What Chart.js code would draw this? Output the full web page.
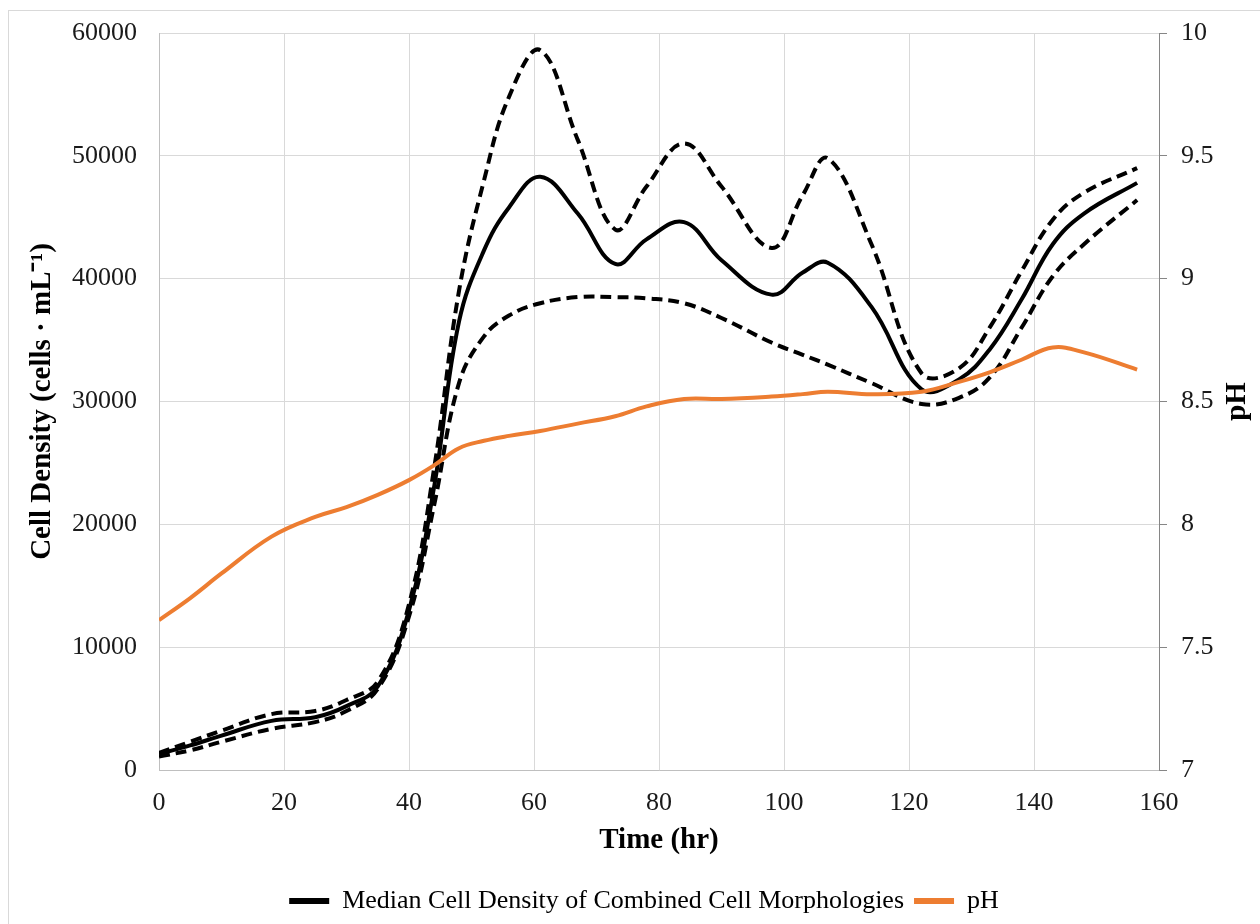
<!DOCTYPE html>
<html>
<head>
<meta charset="utf-8">
<title>Cell density and pH</title>
<script src="https://cdn.jsdelivr.net/npm/chart.js@4.4.0/dist/chart.umd.min.js"></script>
<style>
    html, body { margin: 0; padding: 0; background: #fff; }
    #wrap { width: 1260px; height: 924px; }
</style>
</head>
<body>
<div id="wrap"><canvas id="chart" width="1260" height="924"></canvas></div>
<script>
/* data */
const timeHr = [0, 5, 10, 18, 25, 30, 35, 40, 44, 48, 52, 56, 61, 67, 73, 78, 84, 90, 98, 103, 107, 114, 122, 128, 133, 138, 143, 148, 156.5];

const medianDensity = [1300, 2000, 2800, 4000, 4300, 5200, 6800, 13000, 23000, 36500, 42300, 45800, 48300, 45300, 41200, 43200, 44600, 41500, 38700, 40500, 41300, 37700, 31000, 31800, 34300, 38300, 42800, 45300, 47800];
const upperDensity  = [1400, 2300, 3200, 4550, 4800, 5700, 7200, 13500, 24500, 39000, 48000, 54800, 58600, 51300, 44000, 47500, 51000, 47500, 42500, 46800, 49800, 42800, 32300, 32700, 36100, 40600, 44800, 47000, 49000];
const lowerDensity  = [1100, 1600, 2300, 3350, 3900, 4800, 6600, 12500, 21500, 31500, 35300, 37000, 38000, 38500, 38500, 38400, 38000, 36800, 34800, 33800, 33000, 31500, 29800, 30300, 32000, 36000, 40200, 42800, 46400];
const phValues      = [7.61, 7.70, 7.80, 7.95, 8.03, 8.07, 8.12, 8.18, 8.24, 8.31, 8.34, 8.36, 8.38, 8.41, 8.44, 8.48, 8.51, 8.51, 8.52, 8.53, 8.54, 8.53, 8.54, 8.58, 8.62, 8.67, 8.72, 8.70, 8.63];

const medianLabel = "Median Cell Density of Combined Cell Morphologies";
const phLabel = "pH";
const xTitle = "Time (hr)";
const yTitle = "Cell Density (cells \u00b7 mL\u207b\u00b9)";
const y1Title = "pH";

const FONT = "'Liberation Serif', 'Times New Roman', serif";
const GRID = "#d9d9d9";

function toPts(vals) {
    return vals.map(function (v, i) { return { x: timeHr[i], y: v }; });
}

const legendSeries = [0, 3];

/* page frame + rotated right axis title */
const framePlugin = {
    id: "frame",
    beforeDraw: function (chart) {
        const ctx = chart.ctx;
        ctx.save();
        ctx.fillStyle = "#fff";
        ctx.fillRect(0, 0, chart.width, chart.height);
        ctx.strokeStyle = GRID;
        ctx.lineWidth = 1;
        ctx.strokeRect(8.5, 10.5, chart.width + 10, chart.height + 10);
        ctx.restore();
    },
    afterDraw: function (chart) {
        const ctx = chart.ctx;
        const area = chart.chartArea;
        ctx.save();
        ctx.translate(area.right + 79, (area.top + area.bottom) / 2);
        ctx.rotate(-Math.PI / 2);
        ctx.font = "bold 29px " + FONT;
        ctx.fillStyle = "#000";
        ctx.textAlign = "center";
        ctx.textBaseline = "middle";
        ctx.fillText(y1Title, 0, 0);
        ctx.restore();
    }
};

const lineBase = {
    pointRadius: 0,
    pointHoverRadius: 0,
    fill: false,
    tension: 0.4
};

/* fixed axis widths, and no extra label padding pushed into the layout */
function fixWidth(w) {
    return function (scale) {
        scale.width = w;
        scale.paddingTop = 0;
        scale.paddingBottom = 0;
    };
}

new Chart(document.getElementById("chart").getContext("2d"), {
    type: "line",
    data: {
        datasets: [
            Object.assign({}, lineBase, {
                label: medianLabel,
                data: toPts(medianDensity),
                yAxisID: "y",
                borderColor: "#000",
                backgroundColor: "#000",
                borderWidth: 4,
                order: 1
            }),
            Object.assign({}, lineBase, {
                label: "upper",
                data: toPts(upperDensity),
                yAxisID: "y",
                borderColor: "#000",
                borderWidth: 4,
                borderDash: [11, 6],
                order: 2
            }),
            Object.assign({}, lineBase, {
                label: "lower",
                data: toPts(lowerDensity),
                yAxisID: "y",
                borderColor: "#000",
                borderWidth: 4,
                borderDash: [11, 6],
                order: 2
            }),
            Object.assign({}, lineBase, {
                label: phLabel,
                data: toPts(phValues),
                yAxisID: "y1",
                borderColor: "#ED7D31",
                backgroundColor: "#ED7D31",
                borderWidth: 4,
                order: 0
            })
        ]
    },
    options: {
        responsive: false,
        animation: false,
        layout: { padding: { left: 28, top: 33, right: 0, bottom: 0 } },
        plugins: {
            tooltip: { enabled: false },
            legend: {
                display: true,
                position: "bottom",
                labels: {
                    boxWidth: 40,
                    boxHeight: 6,
                    padding: 10,
                    color: "#000",
                    font: { family: FONT, size: 26 },
                    generateLabels: function (chart) {
                        return legendSeries.map(function (idx) {
                            const ds = chart.data.datasets[idx];
                            return {
                                text: ds.label,
                                fillStyle: ds.borderColor,
                                strokeStyle: ds.borderColor,
                                lineWidth: 0,
                                hidden: false,
                                datasetIndex: idx,
                                fontColor: "#000"
                            };
                        });
                    }
                }
            }
        },
        scales: {
            x: {
                type: "linear",
                min: 0,
                max: 160,
                ticks: {
                    stepSize: 20,
                    padding: 18,
                    color: "#1a1a1a",
                    font: { family: FONT, size: 26 }
                },
                grid: { color: GRID, lineWidth: 1, drawTicks: false },
                border: { color: "#bfbfbf" },
                title: {
                    display: true,
                    text: xTitle,
                    color: "#000",
                    font: { family: FONT, size: 29, weight: "bold" },
                    padding: { top: 0, bottom: 20 }
                },
                afterFit: function (scale) { scale.height = 108; }
            },
            y: {
                position: "left",
                min: 0,
                max: 60000,
                ticks: {
                    stepSize: 10000,
                    padding: 22,
                    color: "#1a1a1a",
                    font: { family: FONT, size: 26 },
                    callback: function (v) { return String(v); }
                },
                grid: { color: GRID, lineWidth: 1, drawTicks: false },
                border: { color: "#bfbfbf" },
                title: {
                    display: true,
                    text: yTitle,
                    color: "#000",
                    font: { family: FONT, size: 29, weight: "bold" },
                    padding: { top: -3, bottom: 0 }
                },
                afterFit: fixWidth(131)
            },
            y1: {
                position: "right",
                min: 7,
                max: 10,
                ticks: {
                    stepSize: 0.5,
                    padding: 14,
                    color: "#1a1a1a",
                    font: { family: FONT, size: 26 },
                    callback: function (v) { return String(v); }
                },
                grid: {
                    drawOnChartArea: false,
                    drawTicks: true,
                    tickLength: 8,
                    color: "#868686"
                },
                border: { color: "#868686" },
                afterFit: fixWidth(101)
            }
        }
    },
    plugins: [framePlugin]
});
</script>
</body>
</html>
